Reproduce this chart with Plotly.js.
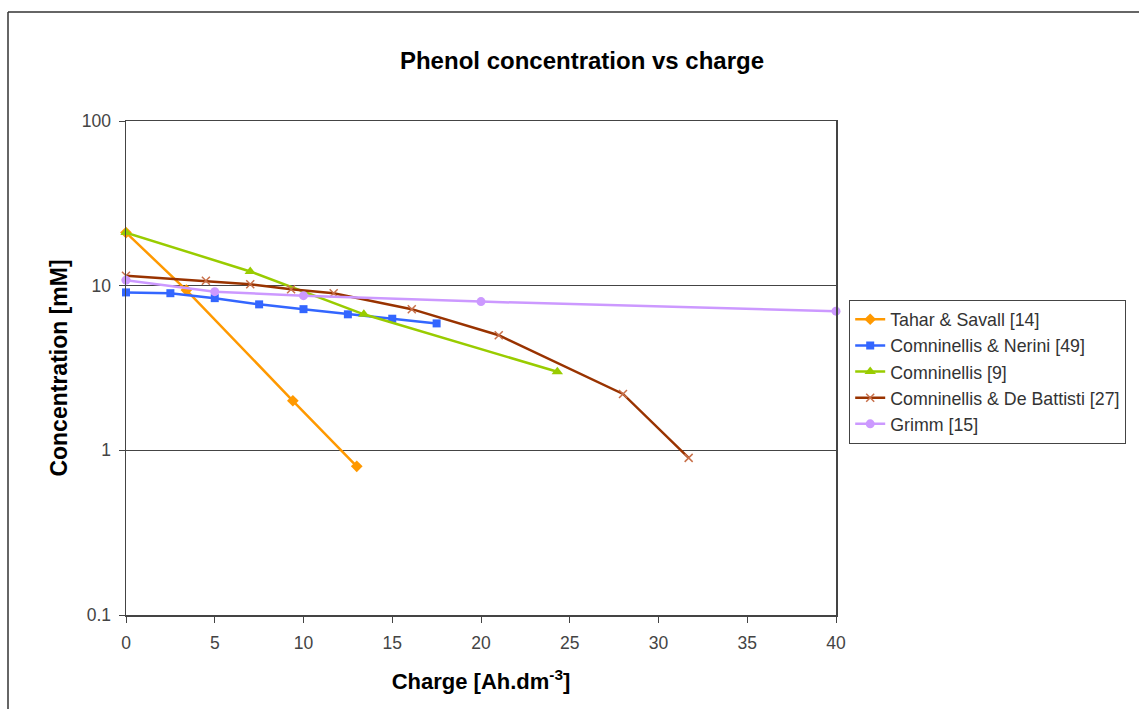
<!DOCTYPE html>
<html>
<head>
<meta charset="utf-8">
<script src="https://cdn.plot.ly/plotly-3.0.1.min.js"></script>
<style>
  html, body { margin: 0; padding: 0; background: #fff; }
  #chart { width: 1139px; height: 709px; }
</style>
</head>
<body>
<div id="chart"></div>
<script>
// ---- Data ----
const seriesNames = [
  "Tahar & Savall [14]",
  "Comninellis & Nerini [49]",
  "Comninellis [9]",
  "Comninellis & De Battisti [27]",
  "Grimm [15]"
];

const taharX = [0, 3.4, 9.4, 13.0];
const taharY = [21, 9.4, 2.0, 0.8];

const neriniX = [0, 2.5, 5, 7.5, 10, 12.5, 15, 17.5];
const neriniY = [9.1, 9.0, 8.4, 7.7, 7.2, 6.7, 6.3, 5.9];

const comnX = [0, 7.0, 13.4, 24.3];
const comnY = [21, 12.2, 6.7, 3.0];

const battistiX = [0, 4.5, 7.0, 9.3, 11.7, 16.1, 21.0, 28.0, 31.7];
const battistiY = [11.5, 10.7, 10.2, 9.5, 9.0, 7.2, 5.0, 2.2, 0.9];

const grimmX = [0, 5, 10, 20, 40];
const grimmY = [10.8, 9.2, 8.7, 8.0, 7.0];

const xTickVals = [0, 5, 10, 15, 20, 25, 30, 35, 40];
const yTickVals = [0.1, 1, 10, 100];
const yTickText = ["0.1", "1", "10", "100"];

// ---- Styling ----
const FONT = "Liberation Sans, Arial, Helvetica, sans-serif";

function trace(x, y, name, color, symbol, size, mline) {
  return {
    type: "scatter", mode: "lines+markers",
    x: x, y: y, name: name,
    line: { color: color, width: 2.5 },
    marker: Object.assign({ color: color, symbol: symbol, size: size }, mline || {}),
    cliponaxis: false
  };
}

const data = [
  trace(taharX, taharY, seriesNames[0], "#FF9900", "diamond", 9),
  trace(neriniX, neriniY, seriesNames[1], "#3366FF", "square", 8),
  trace(comnX, comnY, seriesNames[2], "#99CC00", "triangle-up", 10),
  trace(battistiX, battistiY, seriesNames[3], "#993300", "x-thin", 8,
        { line: { color: "#C8704A", width: 1.5 } }),
  trace(grimmX, grimmY, seriesNames[4], "#CC99FF", "circle", 9)
];

const L = 126, R = 836, T = 121, B = 615, W = 1139, H = 709;
const pw = R - L, ph = B - T;
const bx = (8 - L) / pw, by = 1 + (T - 12) / ph;

const layout = {
  width: W, height: H,
  margin: { l: L, r: W - R, t: T, b: H - B, pad: 0 },
  paper_bgcolor: "#ffffff",
  plot_bgcolor: "#ffffff",
  font: { family: FONT, color: "#333333", size: 17 },
  title: {
    text: "Phenol concentration vs charge",
    font: { family: FONT, size: 24, color: "#000000", weight: "bold" },
    x: 582 / W, xanchor: "center",
    y: 1 - 61 / H, yanchor: "middle"
  },
  xaxis: {
    type: "linear",
    range: [0, 40],
    tickvals: xTickVals,
    ticktext: xTickVals.map(String),
    ticks: "outside", ticklen: 6, tickcolor: "#444", tickwidth: 1,
    ticklabelstandoff: 5,
    tickfont: { family: FONT, size: 17.5, color: "#444444" },
    showgrid: false, zeroline: false,
    showline: true, linecolor: "#444", linewidth: 1.5, mirror: true,
    title: {
      text: "Charge [Ah.dm<sup>-3</sup>]",
      font: { family: FONT, size: 22, color: "#000000", weight: "bold" },
      standoff: 22
    }
  },
  yaxis: {
    type: "log",
    range: [-1, 2],
    tickvals: yTickVals,
    ticktext: yTickText,
    ticks: "outside", ticklen: 6, tickcolor: "#444", tickwidth: 1,
    ticklabelstandoff: 4,
    tickfont: { family: FONT, size: 17.5, color: "#444444" },
    showgrid: true, gridcolor: "#444", gridwidth: 1.2,
    zeroline: false,
    showline: true, linecolor: "#444", linewidth: 1.5, mirror: true,
    title: {
      text: "Concentration [mM]",
      font: { family: FONT, size: 23, color: "#000000", weight: "bold" },
      standoff: 7
    }
  },
  legend: {
    x: (849 - L) / pw, xanchor: "left",
    y: (B - 300) / ph, yanchor: "top",
    bgcolor: "#ffffff",
    bordercolor: "#444", borderwidth: 1.2,
    font: { family: FONT, size: 17.8, color: "#333333" },
    itemwidth: 30,
    tracegroupgap: 0
  },
  shapes: [
    { type: "line", xref: "paper", yref: "paper",
      x0: bx, x1: bx, y0: by, y1: -1, line: { color: "#333", width: 1.5 } },
    { type: "line", xref: "paper", yref: "paper",
      x0: bx, x1: 2, y0: by, y1: by, line: { color: "#333", width: 1.5 } }
  ],
  showlegend: true
};

Plotly.newPlot("chart", data, layout, { displayModeBar: false, staticPlot: true });
</script>
</body>
</html>
